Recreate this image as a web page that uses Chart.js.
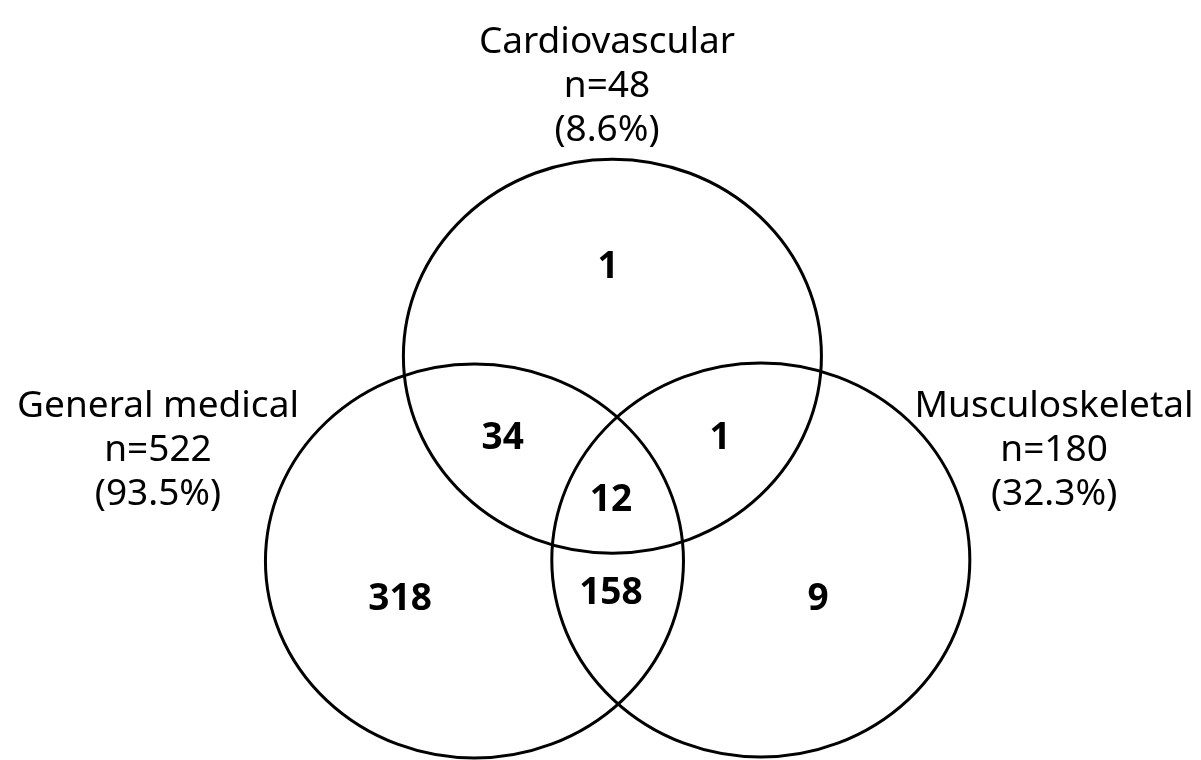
<!DOCTYPE html>
<html>
<head>
<meta charset="utf-8">
<script src="https://cdn.jsdelivr.net/npm/chart.js@4/dist/chart.umd.min.js"></script>
<style>
  html, body { margin: 0; padding: 0; background: #ffffff; }
  #wrap { width: 1201px; height: 760px; }
</style>
</head>
<body>
<div id="wrap"><canvas id="c" width="1201" height="760"></canvas></div>
<script>
// ---- Data ----
const setNames    = ['Cardiovascular', 'General medical', 'Musculoskeletal'];
const setTotals   = [48, 522, 180];
const setPercents = ['8.6%', '93.5%', '32.3%'];

// circle centres in diagram units (radius = 1 unit on each axis)
const circleX = [2.93, 2.27, 3.64];
const circleY = [2.05, 1.01, 1.015];
const circleR = [1, 1, 1];

// set-label anchors (first text line baseline)
const setLabelX = [2.904, 0.756, 5.043];
const setLabelY = [3.589, 1.741, 1.741];

// region counts: C only, C∩G, C∩M, C∩G∩M, G only, G∩M, M only
const regionCounts = [1, 34, 1, 12, 318, 158, 9];
const regionX = [2.909, 2.405, 3.445, 2.923, 1.914, 2.923, 3.914];
const regionY = [2.513, 1.645, 1.645, 1.335, 0.832, 0.858, 0.832];

// diagram extent
const xMin = 0, xMax = 5.746;
const yMin = 0, yMax = 3.858;

const LABEL_FONT = '37px "Noto Sans"';
const COUNT_FONT = 'bold 37px "Noto Sans"';
const LINE_H = 44;

const vennPlugin = {
  id: 'venn',
  afterDatasetsDraw(chart) {
    const ctx = chart.ctx;
    const xs = chart.scales.x, ys = chart.scales.y;
    ctx.save();
    // circles (ellipses in pixel space)
    ctx.strokeStyle = '#000000';
    ctx.lineWidth = 3;
    const circles = chart.data.datasets[0].data;
    circles.forEach((p) => {
      const px = xs.getPixelForValue(p.x);
      const py = ys.getPixelForValue(p.y);
      const rx = Math.abs(xs.getPixelForValue(p.x + p.r) - px);
      const ry = Math.abs(ys.getPixelForValue(p.y + p.r) - py);
      ctx.beginPath();
      ctx.ellipse(px, py, rx, ry, 0, 0, Math.PI * 2);
      ctx.stroke();
    });
    // region counts
    ctx.fillStyle = '#000000';
    ctx.font = COUNT_FONT;
    ctx.textAlign = 'center';
    ctx.textBaseline = 'alphabetic';
    const regions = chart.data.datasets[1].data;
    regions.forEach((p) => {
      const px = xs.getPixelForValue(p.x);
      const py = ys.getPixelForValue(p.y);
      const txt = String(p.v);
      const m = ctx.measureText(txt);
      const asc = m.actualBoundingBoxAscent || 26;
      ctx.fillText(txt, px, py + asc / 2);
    });
    // set labels
    ctx.font = LABEL_FONT;
    setNames.forEach((name, i) => {
      const px = xs.getPixelForValue(setLabelX[i]);
      const py = ys.getPixelForValue(setLabelY[i]);
      const lines = [name, 'n=' + setTotals[i], '(' + setPercents[i] + ')'];
      lines.forEach((ln, k) => ctx.fillText(ln, px, py + k * LINE_H));
    });
    ctx.restore();
  }
};

new Chart(document.getElementById('c'), {
  type: 'scatter',
  data: {
    datasets: [
      {
        label: 'sets',
        data: circleX.map((x, i) => ({ x: x, y: circleY[i], r: circleR[i] })),
        pointRadius: 0,
        pointHoverRadius: 0
      },
      {
        label: 'regions',
        data: regionX.map((x, i) => ({ x: x, y: regionY[i], v: regionCounts[i] })),
        pointRadius: 0,
        pointHoverRadius: 0
      }
    ]
  },
  options: {
    responsive: false,
    animation: false,
    devicePixelRatio: 1,
    layout: { padding: 0 },
    plugins: {
      legend: { display: false },
      tooltip: { enabled: false }
    },
    scales: {
      x: { type: 'linear', min: xMin, max: xMax, display: false },
      y: { type: 'linear', min: yMin, max: yMax, display: false }
    }
  },
  plugins: [vennPlugin]
});
</script>
</body>
</html>
